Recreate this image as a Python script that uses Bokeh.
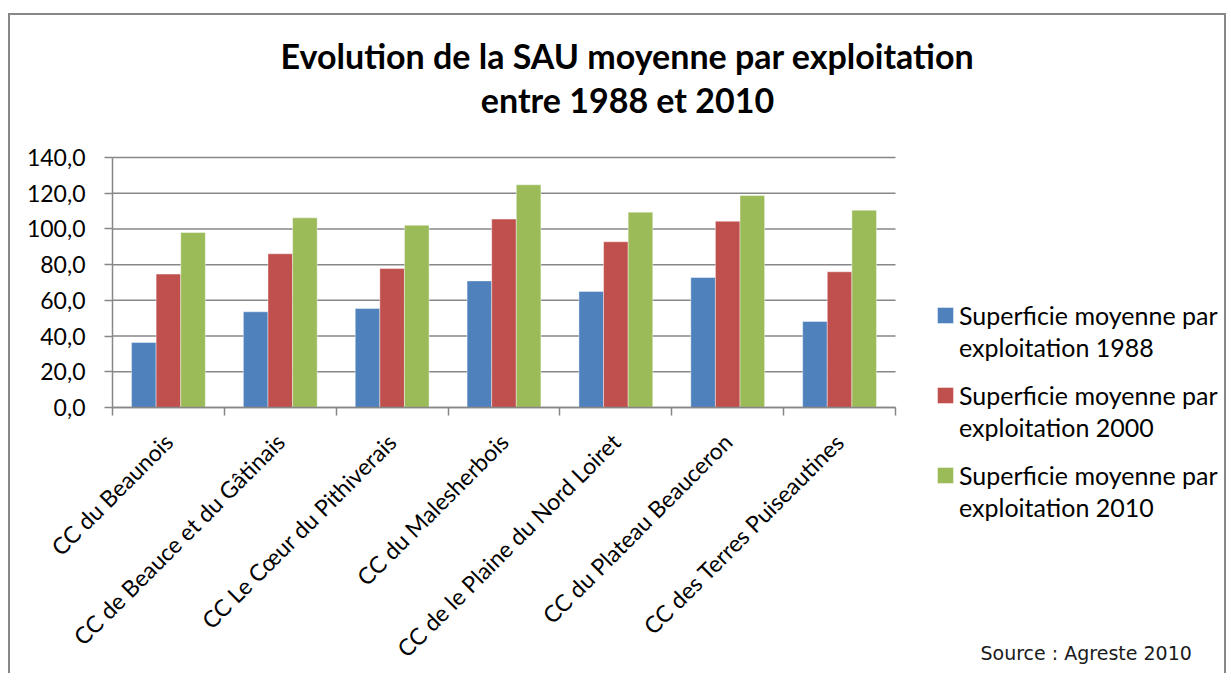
import math
from bokeh.plotting import figure
from bokeh.models import (ColumnDataSource, FixedTicker, Legend, LegendItem, Label, Range1d)
from bokeh.transform import dodge
from bokeh.embed import file_html
from bokeh.resources import INLINE

# ---------------- data ----------------
categories = ["CC du Beaunois", "CC de Beauce et du Gâtinais", "CC Le Cœur du Pithiverais",
              "CC du Malesherbois", "CC de le Plaine du Nord Loiret", "CC du Plateau Beauceron",
              "CC des Terres Puiseautines"]
v1988 = [36.4, 53.6, 55.4, 70.9, 65.0, 72.8, 48.2]
v2000 = [74.7, 86.1, 77.8, 105.5, 92.8, 104.3, 76.0]
v2010 = [98.0, 106.2, 102.1, 124.7, 109.4, 118.7, 110.5]
series_label_lines = [["Superficie moyenne par", "exploitation 1988"],
                      ["Superficie moyenne par", "exploitation 2000"],
                      ["Superficie moyenne par", "exploitation 2010"]]
y_ticks = [0, 20, 40, 60, 80, 100, 120, 140]
title_lines = ["Evolution de la SAU moyenne par exploitation", "entre 1988 et 2010"]
source_text = "Source : Agreste 2010"

# ---------------- layout (canvas px) ----------------
W, H = 1218, 660
AX_L, AX_T, AX_R, AX_B = 102, 142, 885, 392   # plotting area edges
NCAT = len(categories)
YMAX = 140
FONT = "Lato"
GRID = "#878787"
colors = ["#4F81BD", "#C0504D", "#9BBB59"]

XS = (AX_R - AX_L) / NCAT     # px per category
YS = (AX_B - AX_T) / YMAX     # px per unit


def px_x(px):
    return (px - AX_L) / XS


def px_y(py):
    return (AX_B - py) / YS


p = figure(width=W, height=H, output_backend="svg", toolbar_location=None, tools="",
           x_range=Range1d(px_x(0), px_x(W)), y_range=Range1d(px_y(H), px_y(0)),
           min_border_left=0, min_border_right=0, min_border_top=0, min_border_bottom=0)
p.title_location = None
p.margin = (13, 0, 0, 8)
p.stylesheets = [":host { border: 2px solid #878787; border-bottom: none; }"]
p.outline_line_color = None
p.background_fill_color = "white"
p.border_fill_color = "white"

# horizontal gridlines limited to the plotting area
p.xgrid.visible = False
p.ygrid.visible = False
p.segment(x0=[0] * len(y_ticks), x1=[NCAT] * len(y_ticks), y0=y_ticks, y1=y_ticks,
          line_color=GRID, line_width=1.5, level="underlay")

src = ColumnDataSource(dict(x=[i + 0.5 for i in range(NCAT)], v1988=v1988, v2000=v2000, v2010=v2010))
cols = ["v1988", "v2000", "v2010"]
offsets = [-0.22, 0.0, 0.22]
renderers = []
for c, col, off in zip(colors, cols, offsets):
    r = p.vbar(x=dodge("x", off, range=p.x_range), top=col, width=0.22, source=src,
               fill_color=c, line_color="white", line_width=0.6, line_alpha=0.7)
    renderers.append(r)

# x axis (fixed at y = 0)
xa = p.xaxis[0]
xa.fixed_location = 0
xa.bounds = (0, NCAT)
xa.ticker = FixedTicker(ticks=[i + 0.5 for i in range(NCAT)], minor_ticks=list(range(NCAT + 1)))
xa.major_label_overrides = {i + 0.5: name for i, name in enumerate(categories)}
xa.major_label_orientation = math.pi / 4
xa.major_tick_line_color = None
xa.minor_tick_line_color = GRID
xa.minor_tick_out = 8
xa.minor_tick_in = 0
xa.minor_tick_line_width = 1.5
xa.axis_line_color = GRID
xa.axis_line_width = 1.5
xa.major_label_text_font = FONT
xa.major_label_text_font_size = "23px"
xa.major_label_text_color = "black"
xa.major_label_standoff = 22

# y axis (fixed at x = 0)
ya = p.yaxis[0]
ya.fixed_location = 0
ya.bounds = (0, YMAX)
ya.ticker = FixedTicker(ticks=y_ticks)
ya.major_label_overrides = {v: f"{v:.1f}".replace(".", ",") for v in y_ticks}
ya.minor_tick_line_color = None
ya.major_tick_out = 8
ya.major_tick_in = 0
ya.major_tick_line_color = GRID
ya.major_tick_line_width = 1.5
ya.axis_line_color = GRID
ya.axis_line_width = 1.5
ya.major_label_text_font = FONT
ya.major_label_text_font_size = "23px"
ya.major_label_text_color = "black"
ya.major_label_standoff = 19

# legend: one block per series, glyph beside the first line
blank = p.vbar(x=[], top=[], width=0.1, fill_alpha=0, line_alpha=0)
for k, (lines, r) in enumerate(zip(series_label_lines, renderers)):
    lg = Legend(items=[LegendItem(label=lines[0], renderers=[r]),
                       LegendItem(label=lines[1], renderers=[blank])],
                location=(925, 313 - 80 * k))
    lg.label_text_font = FONT
    lg.label_text_font_size = "25px"
    lg.label_text_color = "black"
    lg.glyph_width = 20
    lg.glyph_height = 20
    lg.label_standoff = 4
    lg.spacing = 2
    lg.padding = 0
    lg.margin = 0
    lg.border_line_color = None
    lg.background_fill_alpha = 0
    p.add_layout(lg)

# title
for txt, cy in zip(title_lines, [40, 84]):
    p.add_layout(Label(x=px_x(617), y=px_y(cy), text=txt, text_align="center", text_baseline="middle",
                       text_font=FONT, text_font_style="bold", text_font_size="34px",
                       text_color="black"))

# source
p.add_layout(Label(x=px_x(970), y=px_y(637), text=source_text, text_align="left",
                   text_baseline="middle", text_font="DejaVu Sans", text_font_size="19px",
                   text_color="#1a1a1a"))

open("out.html", "w").write(file_html(p, INLINE))
